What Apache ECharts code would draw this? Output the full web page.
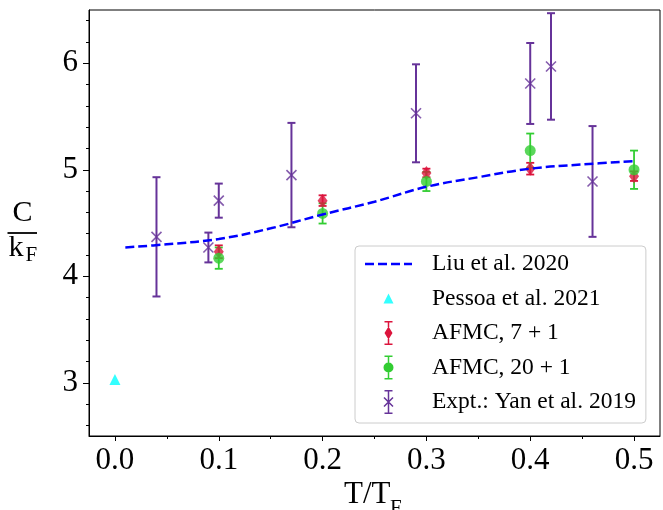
<!DOCTYPE html>
<html><head><meta charset="utf-8">
<script src="https://cdn.jsdelivr.net/npm/echarts@6/dist/echarts.min.js"></script>
<style>html,body{margin:0;padding:0;background:#fff}#c{width:663px;height:510px}</style>
</head><body><div id="c"></div>
<script>
const xTicks = [0, 0.1, 0.2, 0.3, 0.4, 0.5];
const xMinorTicks = [0.05, 0.15, 0.25, 0.35, 0.45];
const yTicks = [3, 4, 5, 6];
const yMinorTicks = [2.6, 2.8, 3.2, 3.4, 3.6, 3.8, 4.2, 4.4, 4.6, 4.8, 5.2, 5.4, 5.6, 5.8, 6.2, 6.4];

const liuX = [0.01, 0.05, 0.1, 0.15, 0.2, 0.25, 0.3, 0.35, 0.4, 0.45, 0.5];
const liuY = [4.27, 4.30, 4.35, 4.45, 4.58, 4.70, 4.84, 4.93, 5.01, 5.05, 5.08];
const pessoaX = [0];
const pessoaY = [3.03];
const afmc7X = [0.1, 0.2, 0.3, 0.4, 0.5];
const afmc7Y = [4.23, 4.71, 4.97, 5.01, 4.94];
const afmc7Err = [0.06, 0.05, 0.04, 0.055, 0.045];
const afmc20X = [0.1, 0.2, 0.3, 0.4, 0.5];
const afmc20Y = [4.17, 4.59, 4.89, 5.18, 5.00];
const afmc20Err = [0.10, 0.095, 0.09, 0.16, 0.18];
const exptX = [0.04, 0.09, 0.1, 0.17, 0.29, 0.4, 0.42, 0.46];
const exptY = [4.37, 4.27, 4.71, 4.95, 5.53, 5.81, 5.97, 4.89];
const exptErr = [0.56, 0.14, 0.16, 0.49, 0.46, 0.38, 0.50, 0.52];
const seriesNames = ['Liu et al. 2020', 'Pessoa et al. 2021', 'AFMC, 7 + 1', 'AFMC, 20 + 1', 'Expt.: Yan et al. 2019'];

const FONT = "'Liberation Serif', 'Times New Roman', serif";
const BLUE = '#0000ff', CYAN = '#00ffff', RED = '#dc143c', GREEN = '#32cd32', PURPLE = '#663399';

function pairs(xs, ys) { return xs.map((x, i) => [x, ys[i]]); }

function errorBars(name, xs, ys, es, color, lw, capHalf) {
  return {
    type: 'custom', name: name, xAxisIndex: 0, yAxisIndex: 0,
    data: xs.map((x, i) => [x, ys[i], es[i]]),
    encode: { x: 0, y: 1 },
    clip: false, silent: true,
    itemStyle: { color: color },
    renderItem: function (params, api) {
      const x = api.value(0), y = api.value(1), e = api.value(2);
      const t = api.coord([x, y + e]), b = api.coord([x, y - e]);
      const st = { stroke: color, lineWidth: lw, fill: null };
      return { type: 'group', children: [
        { type: 'line', shape: { x1: t[0], y1: t[1], x2: b[0], y2: b[1] }, style: st },
        { type: 'line', shape: { x1: t[0] - capHalf, y1: t[1], x2: t[0] + capHalf, y2: t[1] }, style: st },
        { type: 'line', shape: { x1: b[0] - capHalf, y1: b[1], x2: b[0] + capHalf, y2: b[1] }, style: st }
      ]};
    }
  };
}

const BOX = 'M0,0 M47,24 ';
function barsPath(mt, mb) {
  return 'M19.5,0 H27.5 V1.5 H19.5 Z M19.5,22.5 H27.5 V24 H19.5 Z ' +
    'M22.75,1.5 H24.25 V' + mt + ' H22.75 Z M22.75,' + mb + ' H24.25 V22.5 H22.75 Z ';
}
const dashIcon = 'path://' + BOX + 'M0,10.75 H9 V13.25 H0 Z M13,10.75 H22 V13.25 H13 Z M26,10.75 H35 V13.25 H26 Z M39,10.75 H47 V13.25 H39 Z';
const triIcon = 'path://' + BOX + 'M23.5,7 L28.5,17 L18.5,17 Z';
const redIcon = 'path://' + BOX + barsPath(6, 18) + 'M23.5,5.5 L27.5,12 L23.5,18.5 L19.5,12 Z';
const greenIcon = 'path://' + BOX + barsPath(8, 16) + 'M28.5,12 A5,5 0 1,1 18.5,12 A5,5 0 1,1 28.5,12 Z';
const purpleIcon = 'path://' + BOX + 'M19.5,0 H27.5 V1.5 H19.5 Z M19.5,22.5 H27.5 V24 H19.5 Z M22.75,1.5 H24.25 V22.5 H22.75 Z ' +
  'M19.53,6.97 L28.53,15.97 L27.47,17.03 L18.47,8.03 Z M28.53,8.03 L19.53,17.03 L18.47,15.97 L27.47,6.97 Z';

const chart = echarts.init(document.getElementById('c'), null, { renderer: 'canvas' });
const tickLabel = { fontFamily: FONT, fontSize: 31, color: '#000' };

chart.setOption({
  animation: false,
  backgroundColor: '#fff',
  grid: { left: 89, right: 3, top: 10, bottom: 74, show: true, borderColor: '#000', borderWidth: 1, backgroundColor: 'transparent' },
  xAxis: [
    { type: 'value', min: -0.025, max: 0.525, position: 'bottom',
      axisLine: { show: true, onZero: false, lineStyle: { color: '#000', width: 1 } },
      axisTick: { show: true, inside: false, length: 5, customValues: xTicks, lineStyle: { color: '#000', width: 1 } },
      axisLabel: Object.assign({ customValues: xTicks, margin: 9, formatter: v => v.toFixed(1) }, tickLabel),
      splitLine: { show: false } },
    { type: 'value', min: -0.025, max: 0.525, position: 'bottom',
      axisLine: { show: false, onZero: false },
      axisTick: { show: true, inside: false, length: 3, customValues: xMinorTicks, lineStyle: { color: '#000', width: 1 } },
      axisLabel: { show: false }, splitLine: { show: false } }
  ],
  yAxis: [
    { type: 'value', min: 2.5, max: 6.5, position: 'left',
      axisLine: { show: true, onZero: false, lineStyle: { color: '#000', width: 1 } },
      axisTick: { show: true, inside: false, length: 6, customValues: yTicks, lineStyle: { color: '#000', width: 1 } },
      axisLabel: Object.assign({ customValues: yTicks, margin: 11, formatter: v => String(v) }, tickLabel),
      splitLine: { show: false } },
    { type: 'value', min: 2.5, max: 6.5, position: 'left',
      axisLine: { show: false, onZero: false },
      axisTick: { show: true, inside: false, length: 3, customValues: yMinorTicks, lineStyle: { color: '#000', width: 1 } },
      axisLabel: { show: false }, splitLine: { show: false } }
  ],
  legend: {
    orient: 'vertical', left: 355, top: 246,
    padding: [6, 10, 9, 10], itemWidth: 47, itemHeight: 24, itemGap: 10.5,
    backgroundColor: 'rgba(255,255,255,0.8)', borderColor: '#cccccc', borderWidth: 1, borderRadius: 4,
    selectedMode: false,
    textStyle: { fontFamily: FONT, fontSize: 23.5, color: '#000', padding: [0, 0, 0, 15], lineHeight: 24 },
    data: [
      { name: seriesNames[0], icon: dashIcon, itemStyle: { color: BLUE, borderWidth: 0 }, lineStyle: { width: 0, opacity: 0 } },
      { name: seriesNames[1], icon: triIcon, itemStyle: { color: CYAN, borderWidth: 0 } },
      { name: seriesNames[2], icon: redIcon, itemStyle: { color: RED, borderWidth: 0 } },
      { name: seriesNames[3], icon: greenIcon, itemStyle: { color: GREEN, borderWidth: 0 } },
      { name: seriesNames[4], icon: purpleIcon, itemStyle: { color: PURPLE, borderWidth: 0 } }
    ]
  },
  series: [
    { type: 'line', name: seriesNames[0], data: pairs(liuX, liuY), smooth: 0.4, symbol: 'none', showSymbol: false,
      lineStyle: { color: BLUE, width: 2.5, type: [9, 4] }, itemStyle: { color: BLUE }, silent: true },
    { type: 'scatter', name: seriesNames[1], data: pairs(pessoaX, pessoaY), symbol: 'triangle', symbolSize: 11,
      itemStyle: { color: CYAN }, silent: true },
    errorBars(seriesNames[2], afmc7X, afmc7Y, afmc7Err, RED, 1.8, 4),
    { type: 'scatter', name: seriesNames[2], data: pairs(afmc7X, afmc7Y), symbol: 'diamond', symbolSize: [10, 14],
      itemStyle: { color: RED }, silent: true },
    errorBars(seriesNames[3], afmc20X, afmc20Y, afmc20Err, GREEN, 1.8, 4),
    { type: 'scatter', name: seriesNames[3], data: pairs(afmc20X, afmc20Y), symbol: 'circle', symbolSize: 11,
      itemStyle: { color: GREEN }, silent: true },
    errorBars(seriesNames[4], exptX, exptY, exptErr, PURPLE, 2, 4),
    { type: 'scatter', name: seriesNames[4], data: pairs(exptX, exptY), symbol: 'path://M0,0L10,10M10,0L0,10', symbolSize: 10,
      itemStyle: { color: 'rgba(0,0,0,0)', borderColor: PURPLE, borderWidth: 1.6 }, silent: true }
  ],
  graphic: [
    { type: 'text', x: 22.5, y: 213, silent: true, style: { text: 'C', font: '30px ' + FONT, fill: '#000', align: 'center', verticalAlign: 'middle' } },
    { type: 'line', silent: true, shape: { x1: 7.5, y1: 233, x2: 37, y2: 233 }, style: { stroke: '#000', lineWidth: 1.8 } },
    { type: 'text', x: 8.5, y: 248, silent: true, style: { text: 'k', font: '30px ' + FONT, fill: '#000', align: 'left', verticalAlign: 'middle' } },
    { type: 'text', x: 25.5, y: 255, silent: true, style: { text: 'F', font: '21px ' + FONT, fill: '#000', align: 'left', verticalAlign: 'middle' } },
    { type: 'text', x: 344, y: 495, silent: true, style: { text: 'T/T', font: '31px ' + FONT, fill: '#000', align: 'left', verticalAlign: 'middle' } },
    { type: 'text', x: 390, y: 508, silent: true, style: { text: 'F', font: '21px ' + FONT, fill: '#000', align: 'left', verticalAlign: 'middle' } }
  ]
});
</script>
</body></html>
